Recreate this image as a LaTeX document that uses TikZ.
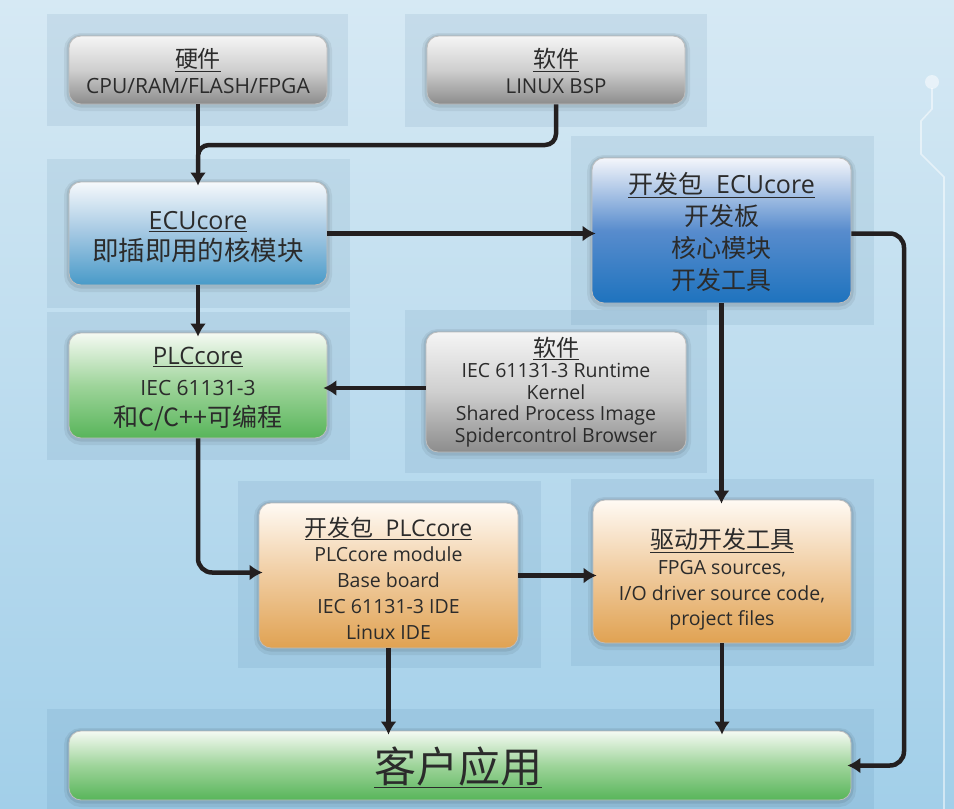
\documentclass[tikz,border=0pt]{standalone}
\usepackage{fontspec}
\setmainfont{Open Sans}
\newfontfamily\cjk{Noto Sans CJK SC}
\usetikzlibrary{arrows.meta,calc}
\definecolor{ink}{HTML}{2B2B2B}
\definecolor{wirec}{HTML}{231F20}
\definecolor{bgtop}{HTML}{D6E9F4}
\definecolor{bgbot}{HTML}{A2CFE9}
\definecolor{panelc}{HTML}{285F8A}
\definecolor{boxline}{HTML}{BDBDBD}
\begin{document}
\begin{tikzpicture}[x=1pt,y=-1pt,
  glow/.style={preaction={draw=black,draw opacity=.06,line width=10pt,transform canvas={yshift=-2pt}},
               preaction={draw=black,draw opacity=.08,line width=5pt,transform canvas={yshift=-1pt}}},
  box/.style={rounded corners=12pt, draw=boxline, line width=0.8pt, minimum width=258pt,
              inner sep=0pt, glow},
  txt/.style={text=ink, align=center, inner sep=0pt, font=\fontsize{19.5}{25}\selectfont},
  graybox/.style={box, top color=white!96!black, bottom color=black!45, middle color=black!19},
  bluebox/.style={box, top color={rgb,255:red,246;green,249;blue,252}, bottom color={rgb,255:red,72;green,154;blue,200}, middle color={rgb,255:red,162;green,199;blue,226}},
  dbluebox/.style={box, top color={rgb,255:red,244;green,246;blue,251}, bottom color={rgb,255:red,30;green,115;blue,190}, middle color={rgb,255:red,88;green,140;blue,205}},
  greenbox/.style={box, top color={rgb,255:red,245;green,250;blue,243}, bottom color={rgb,255:red,88;green,181;blue,90}, middle color={rgb,255:red,158;green,212;blue,154}},
  orangebox/.style={box, top color={rgb,255:red,255;green,250;blue,244}, bottom color={rgb,255:red,224;green,162;blue,82}, middle color={rgb,255:red,240;green,204;blue,160}},
  panel/.style={fill=panelc, fill opacity=.09},
  wire/.style={line width=4.5pt, draw=wirec},
  arr/.style={wire, -{Latex[length=13pt,width=16pt]}, shorten >=-4pt}
]
% background
\useasboundingbox (0,0) rectangle (954,809);
\fill[top color=bgtop, bottom color=bgbot] (0,0) rectangle (954,809);

% decorative circuit line
\draw[white, draw opacity=.5, line width=1.6pt] (932,88) -- (932,109) -- (921,121) -- (921,154) -- (944,177) -- (944,809);
\fill[white, fill opacity=.5] (932,82) circle (7pt);

% panels
\fill[panel] (47,14) rectangle (348,126);
\fill[panel] (405,14) rectangle (707,127);
\fill[panel] (47,159) rectangle (350,308);
\fill[panel] (571,136) rectangle (874,325);
\fill[panel] (47,312) rectangle (350,460);
\fill[panel] (405,310) rectangle (707,473);
\fill[panel] (238,481) rectangle (541,668);
\fill[panel] (571,479) rectangle (874,666);
\fill[panel] (47,709) rectangle (874,809);

% boxes
\node[graybox, minimum height=68pt] (hw) at (198,70) {};
\node[txt, font=\fontsize{21}{26}\selectfont] (hwt) at (198,71)
  {{\fontsize{23}{24}\selectfont\cjk\underline{硬件}}\\CPU/RAM/FLASH/FPGA};

\node[graybox, minimum height=68pt] (sw1) at (556,70) {};
\node[txt, font=\fontsize{20.5}{26}\selectfont] (sw1t) at (556,71)
  {{\fontsize{23}{24}\selectfont\cjk\underline{软件}}\\LINUX BSP};

\node[bluebox, minimum height=103pt] (ecu) at (198,233.5) {};
\node[txt, font=\fontsize{25}{31}\selectfont] (ecut) at (198,237)
  {\underline{ECUcore}\\{\fontsize{26.5}{31}\selectfont\cjk 即插即用的核模块}};

\node[dbluebox, minimum width=259pt, minimum height=145pt] (ecupack) at (721.5,230.5) {};
\node[txt, font=\fontsize{25}{32}\selectfont] (ecupackt) at (721.5,232)
  {\underline{{\cjk 开发包}\ \ ECUcore}\\{\cjk 开发板}\\{\cjk 核心模块}\\{\cjk 开发工具}};

\node[greenbox, minimum height=105pt] (plc) at (198,385.5) {};
\node[txt, font=\fontsize{21}{31}\selectfont] (plct) at (198,389.5)
  {{\fontsize{24}{24}\selectfont\underline{PLCcore}}\\IEC 61131-3\\{\fontsize{25}{25}\selectfont\cjk 和C/C++可编程}};

\node[graybox, minimum width=260pt, minimum height=120pt] (sw2) at (556,392) {};
\node[txt, font=\fontsize{19.5}{21.5}\selectfont] (sw2t) at (556,392)
  {{\fontsize{23}{24}\selectfont\cjk\underline{软件}}\\IEC 61131-3 Runtime\\Kernel\\Shared Process Image\\Spidercontrol Browser};

\node[orangebox, minimum width=259pt, minimum height=145pt] (plcpack) at (388.5,575.5) {};
\node[txt, font=\fontsize{19.5}{25.8}\selectfont] (plcpackt) at (388.5,578)
  {{\fontsize{23}{24}\selectfont\underline{{\cjk 开发包}\ \ PLCcore}}\\PLCcore module\\Base board\\IEC 61131-3 IDE\\Linux IDE};

\node[orangebox, minimum height=143pt] (drv) at (722,571.5) {};
\node[txt, font=\fontsize{19.5}{25.8}\selectfont] (drvt) at (722,579.5)
  {{\fontsize{24}{25}\selectfont\cjk\underline{驱动开发工具}}\\FPGA sources,\\I/O driver source code,\\project files};

\node[greenbox, minimum width=782pt, minimum height=69pt] (app) at (460,765.5) {};
\node[txt, font=\fontsize{42}{44}\selectfont] (appt) at (458,767)
  {{\cjk\underline{客户应用}}};

% connectors
\coordinate (j) at (198,145);
\coordinate (m) at (198,172);
\coordinate (k) at (904,500);
\draw[arr] (hw.south) -- (ecu.north);
\draw[wire, rounded corners=11pt] (sw1.south) |- (j) -- (m);
\draw[arr] (ecu.east) -- (ecu.east -| ecupack.west);
\draw[arr] (ecu.south) -- (plc.north);
\draw[arr] ([yshift=4pt]sw2.west) -- ([yshift=4pt]sw2.west -| plc.east);
\draw[arr, rounded corners=14pt] (plc.south) |- ([yshift=3pt]plcpack.west);
\draw[arr] (ecupack.south) -- (ecupack.south |- drv.north);
\draw[arr] (plcpack.east) -- (plcpack.east -| drv.west);
\draw[arr] (plcpack.south) -- (plcpack.south |- app.north);
\draw[arr] (drv.south) -- (drv.south |- app.north);
\draw[arr, rounded corners=14pt] ([yshift=-3pt]ecupack.east) -| (k) |- (app.east);
\end{tikzpicture}
\end{document}
